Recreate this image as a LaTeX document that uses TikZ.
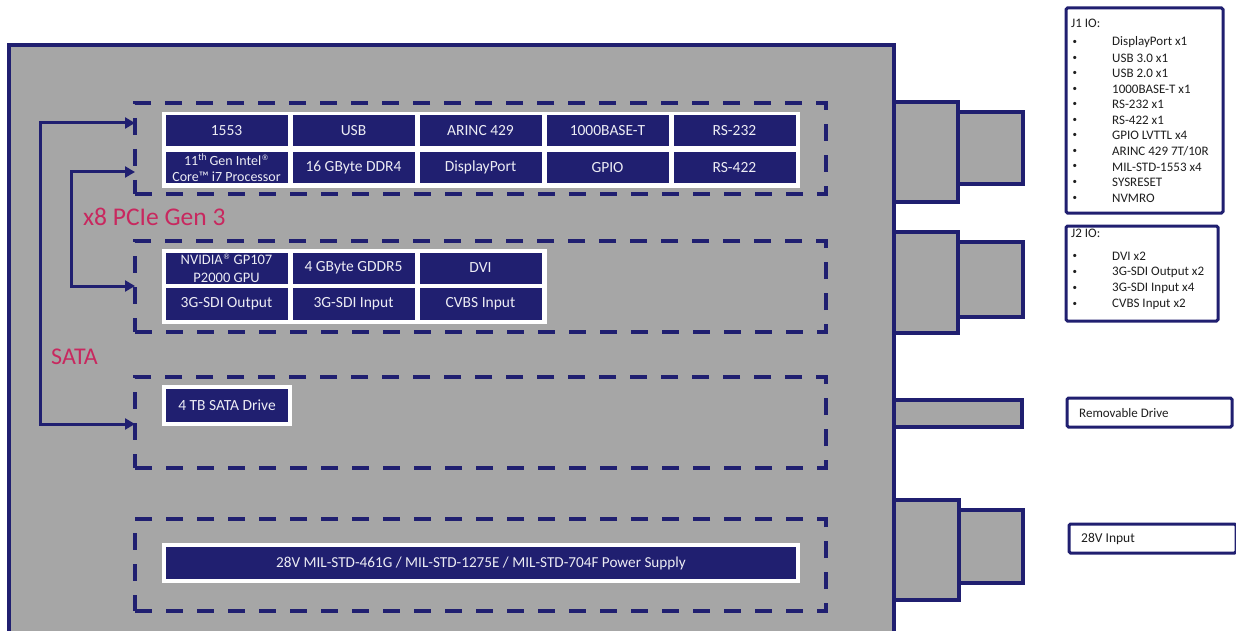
\documentclass[tikz,border=0pt]{standalone}
\usepackage{fontspec}
\setmainfont{Carlito}
\newfontfamily\symfont{DejaVu Sans}
\usetikzlibrary{arrows.meta}
\definecolor{navy}{RGB}{32,31,112}
\definecolor{chgray}{RGB}{166,166,166}
\definecolor{crim}{RGB}{200,40,95}
\definecolor{celltxt}{RGB}{236,236,244}
\definecolor{iotxt}{RGB}{30,30,30}
\newcommand{\regmark}{\raisebox{0.7ex}{\symfont\fontsize{7.5}{8}\selectfont ®}}
\begin{document}
\begin{tikzpicture}[x=1pt,y=-1pt,
  chassis/.style={fill=chgray, draw=navy, line width=3.5pt},
  dbox/.style={draw=navy, line width=3.5pt, dash pattern=on 17pt off 14pt, inner sep=0pt, outer sep=0pt, anchor=north west},
  panel/.style={fill=white},
  cell/.style={fill=navy, text=celltxt, inner sep=0pt, minimum width=122pt, minimum height=31pt, align=center, font=\fontsize{15.5}{17}\selectfont},
  smallcell/.style={cell, font=\fontsize{14}{16}\selectfont},
  iobox/.style={draw=navy, fill=white, line width=3pt, rounded corners=1.5pt},
  busarr/.style={draw=navy, line width=3pt, line join=miter, {Triangle[length=10pt,width=11pt]}-{Triangle[length=10pt,width=11pt]}},
  buslbl/.style={text=crim, inner sep=0pt, anchor=west},
  iotext/.style={text=iotxt, inner sep=0pt, anchor=west, font=\fontsize{13}{15}\selectfont},
  iobul/.style={text=iotxt, inner sep=0pt, anchor=west, font=\fontsize{9}{10}\selectfont}
]
\useasboundingbox (0,0) rectangle (1236,631);

% chassis
\draw[chassis] (9,45) rectangle (894,660);

% connectors
\draw[chassis] (894,102) rectangle (958,202);
\draw[chassis] (958,112) rectangle (1023,184);
\draw[chassis] (894,232) rectangle (958,333);
\draw[chassis] (958,242) rectangle (1023,317);
\draw[chassis] (894,400) rectangle (1022,427);
\draw[chassis] (894,500) rectangle (959,600);
\draw[chassis] (959,510) rectangle (1023,583);

% dashed groups
\node[dbox, minimum width=691pt, minimum height=91pt] (cpu) at (135,103) {};
\node[dbox, minimum width=691pt, minimum height=91pt] (gpu) at (135,241) {};
\node[dbox, minimum width=691pt, minimum height=91pt] (sto) at (135,377) {};
\node[dbox, minimum width=691pt, minimum height=92pt] (pwr) at (135,519) {};

% white panels
\fill[panel] (162,112) rectangle (800,188);
\fill[panel] (162,249) rectangle (547,324);
\fill[panel] (162,385) rectangle (292,426);
\fill[panel] (162,543) rectangle (800,583);

% CPU cells
\node[cell] (c1553) at (226.5,131) {1553};
\node[cell] (cusb) at (353.5,131) {USB};
\node[cell] (carinc) at (480.5,131) {ARINC 429};
\node[cell] (cgbe) at (607.5,131) {1000BASE-T};
\node[cell] (crs232) at (734.5,131) {RS-232};
\node[smallcell] (cproc) at (226.5,167.5) {11\textsuperscript{th}\,Gen Intel\regmark\\Core\texttrademark\ i7 Processor};
\node[cell] (cddr) at (353.5,167.5) {16 GByte DDR4};
\node[cell] (cdp) at (480.5,167.5) {DisplayPort};
\node[cell] (cgpio) at (607.5,167.5) {GPIO};
\node[cell] (crs422) at (734.5,167.5) {RS-422};

% GPU cells
\node[cell, font=\fontsize{14.5}{18}\selectfont] (cnv) at (226.5,268) {NVIDIA\regmark\ GP107\\P2000 GPU};
\node[cell] (cgddr) at (353.5,268) {4 GByte GDDR5};
\node[cell] (cdvi) at (480.5,268) {DVI};
\node[cell, minimum height=32pt] (csdio) at (226.5,304) {3G-SDI Output};
\node[cell, minimum height=32pt] (csdii) at (353.5,304) {3G-SDI Input};
\node[cell, minimum height=32pt] (ccvbs) at (480.5,304) {CVBS Input};

% storage
\node[cell, minimum height=33pt] (csata) at (227,405.5) {4 TB SATA Drive};

% power
\node[cell, minimum width=630pt, minimum height=32pt, font=\fontsize{15.2}{17}\selectfont] (cpsu) at (481,563) {28V MIL-STD-461G / MIL-STD-1275E / MIL-STD-704F Power Supply};

% buses
\coordinate (pA) at (cpu.west |- 0,123);
\coordinate (pB) at (cpu.west |- 0,172);
\coordinate (pC) at (gpu.west |- 0,286);
\coordinate (sB) at (sto.west |- 0,424);
\coordinate (o1) at (40,123);
\coordinate (o2) at (40,424);
\coordinate (i1) at (71,172);
\coordinate (i2) at (71,286);
\draw[busarr] (pA) -- (o1) -- (o2) -- (sB);
\draw[busarr] (pB) -- (i1) -- (i2) -- (pC);
\node[buslbl, font=\fontsize{25.5}{27}\selectfont] (lpcie) at (83,217) {x8 PCIe Gen 3};
\node[buslbl, font=\fontsize{24}{26}\selectfont] (lsata) at (51,357) {SATA};

% IO boxes
\draw[iobox] (1066,8) rectangle (1223,213);
\draw[iobox] (1066,226) rectangle (1218,321);
\draw[iobox] (1067,398) rectangle (1232,427);
\draw[iobox] (1069,524) rectangle (1236,553);

\node[iotext] (j1h) at (1071,23.5) {J1 IO:};
\foreach \t [count=\i from 0] in {DisplayPort x1, USB 3.0 x1, USB 2.0 x1, 1000BASE-T x1, RS-232 x1, RS-422 x1, GPIO LVTTL x4, ARINC 429 7T/10R, MIL-STD-1553 x4, SYSRESET, NVMRO} {
  \node[iobul] (j1b\i) at (1072.5,42.5+15.55*\i) {•};
  \node[iotext] (j1t\i) at (1112,42.5+15.55*\i) {\t};
}
\node[iotext] (j2h) at (1071,233.5) {J2 IO:};
\foreach \t [count=\i from 0] in {DVI x2, 3G-SDI Output x2, 3G-SDI Input x4, CVBS Input x2} {
  \node[iobul] (j2b\i) at (1072.5,256.5+16.1*\i) {•};
  \node[iotext] (j2t\i) at (1112,256.5+16.1*\i) {\t};
}
\node[iotext] (rd) at (1079,413) {Removable Drive};
\node[iotext, font=\fontsize{13.5}{15}\selectfont] (v28) at (1081,538.5) {28V Input};
\end{tikzpicture}
\end{document}
